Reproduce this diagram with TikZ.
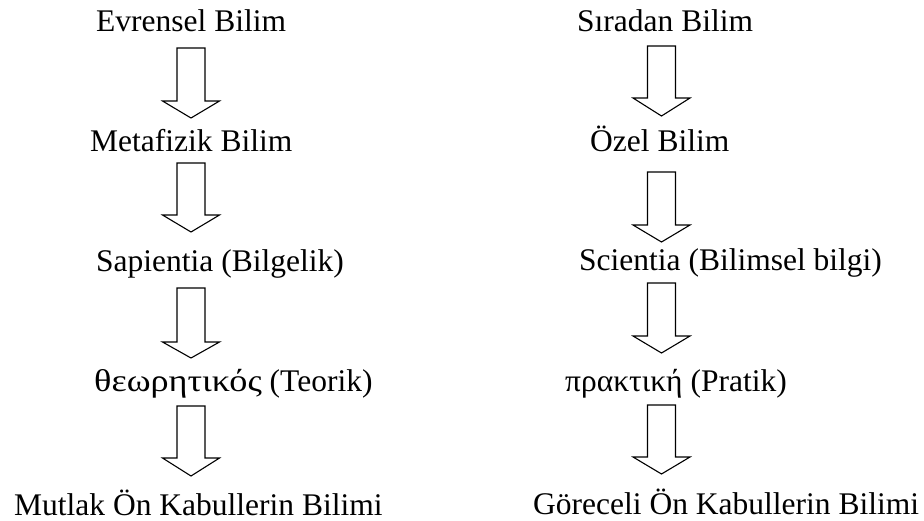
\documentclass[tikz,border=0pt]{standalone}
\usepackage{graphicx}
\usepackage{fontspec}
\setmainfont{Liberation Serif}
\begin{document}
\begin{tikzpicture}[x=1pt,y=-1pt,
  label text/.style={anchor=base west,inner sep=0pt,font=\fontsize{31.5}{38}\selectfont},
  block arrow/.style={draw=black,line width=1.1pt,fill=white,line join=miter}]
\useasboundingbox[fill=white] (0,0) rectangle (924,520);

% hollow down-arrow: centre x, shaft top, wing line, tip
\newcommand\hollowdown[4]{%
  \draw[block arrow] (#1-14,#2) -- (#1+14,#2) -- (#1+14,#3) -- (#1+28.5,#3)
    -- (#1,#4) -- (#1-28.5,#3) -- (#1-14,#3) -- cycle;}

% left column
\node[label text] (l1) at (96,31)  {Evrensel Bilim};
\node[label text] (l2) at (90,151) {Metafizik Bilim};
\node[label text] (l3) at (96,271) {Sapientia (Bilgelik)};
\node[label text] (l4) at (94,391) {\scalebox{1.15}[1]{θεωρητικός} (Teorik)};
\node[label text] (l5) at (14,515) {Mutlak Ön Kabullerin Bilimi};

\hollowdown{191}{48}{101}{118}
\hollowdown{191}{163}{215}{232}
\hollowdown{191}{288}{342}{358}
\hollowdown{191}{406}{458}{476}

% right column
\node[label text] (r1) at (577,31)  {Sıradan Bilim};
\node[label text] (r2) at (590,151) {Özel Bilim};
\node[label text] (r3) at (579,270) {Scientia (Bilimsel bilgi)};
\node[label text] (r4) at (565,391) {πρακτική (Pratik)};
\node[label text] (r5) at (533,514) {Göreceli Ön Kabullerin Bilimi};

\hollowdown{661.5}{46}{98}{116}
\hollowdown{661.5}{172}{225}{242}
\hollowdown{661.5}{283}{336}{353}
\hollowdown{661.5}{405}{457}{474}
\end{tikzpicture}
\end{document}
